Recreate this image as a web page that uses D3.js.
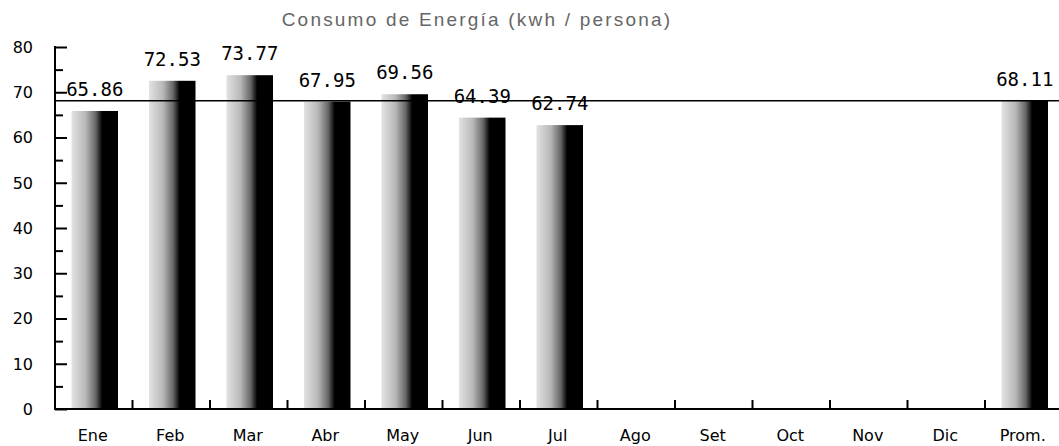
<!DOCTYPE html>
<html>
<head>
<meta charset="utf-8">
<script src="https://cdn.jsdelivr.net/npm/d3@7"></script>
<style>
  body { margin: 0; background: #fff; }
  svg { display: block; }
</style>
</head>
<body>
<div id="chart"></div>
<script>
// data
const months = ["Ene", "Feb", "Mar", "Abr", "May", "Jun", "Jul", "Ago", "Set", "Oct", "Nov", "Dic", "Prom."];
const consumo = [65.86, 72.53, 73.77, 67.95, 69.56, 64.39, 62.74, null, null, null, null, null, 68.11];
const promedio = 68.11;
const yTicks = [0, 10, 20, 30, 40, 50, 60, 70, 80];
const title = "Consumo de Energía (kwh / persona)";

let width = 1059,
    height = 446;

const svg = d3.select("#chart").append("svg")
    .attr("width", width)
    .attr("height", height);

let x = d3.scaleBand()
    .domain(months)
    .range([55, 1062.5])
    .padding(0);

let y = d3.scaleLinear()
    .domain([0, 80])
    .range([409, 47]);

// left light -> right black shading of the bars
const grad = svg.append("defs").append("linearGradient")
    .attr("id", "barShade")
    .attr("x1", "0%").attr("x2", "100%")
    .attr("y1", "0%").attr("y2", "0%");
grad.append("stop").attr("offset", "0%").attr("stop-color", "#e2e2e2");
grad.append("stop").attr("offset", "30%").attr("stop-color", "#b8b8b8");
grad.append("stop").attr("offset", "52%").attr("stop-color", "#666");
grad.append("stop").attr("offset", "66%").attr("stop-color", "#000");
grad.append("stop").attr("offset", "100%").attr("stop-color", "#000");

// title
svg.append("text")
    .attr("x", 477)
    .attr("y", 26)
    .attr("text-anchor", "middle")
    .style("font-family", "Liberation Sans, Arial, sans-serif")
    .style("font-size", "19px")
    .style("letter-spacing", "2.2px")
    .style("fill", "#666")
    .text(title);

const data = months.map(function (m, i) { return { month: m, value: consumo[i] }; });
const bw = x.bandwidth() * 0.6;

// bars
svg.selectAll(".bar")
    .data(data.filter(function (d) { return d.value != null; }))
    .enter().append("rect")
    .attr("class", "bar")
    .attr("x", function (d) { return x(d.month) + (x.bandwidth() - bw) / 2 + 1; })
    .attr("width", bw)
    .attr("y", function (d) { return y(d.value); })
    .attr("height", function (d) { return y(0) - y(d.value); })
    .attr("fill", "url(#barShade)");

// average line
svg.append("line")
    .attr("x1", x.range()[0])
    .attr("x2", width)
    .attr("y1", y(promedio))
    .attr("y2", y(promedio))
    .attr("stroke", "#000")
    .attr("stroke-width", 1.5);

// value labels
svg.selectAll(".val")
    .data(data.filter(function (d) { return d.value != null; }))
    .enter().append("text")
    .attr("class", "val")
    .attr("x", function (d) { return x(d.month) + x.bandwidth() / 2 + 1; })
    .attr("y", function (d) { return y(d.value) - 15; })
    .attr("text-anchor", "middle")
    .style("font-family", "DejaVu Sans Mono, monospace")
    .style("font-size", "19px")
    .style("fill", "#000")
    .text(function (d) { return d.value.toFixed(2); });

// y axis
const yAxis = d3.axisRight(y)
    .tickValues(d3.range(0, 81, 5))
    .tickSize(8)
    .tickFormat("");
const gy = svg.append("g")
    .attr("transform", "translate(" + x.range()[0] + ",0)")
    .call(yAxis);
gy.select(".domain").remove();
gy.selectAll(".tick line")
    .attr("x2", function (d) { return d % 10 === 0 ? 12 : 8; })
    .attr("stroke", "#000")
    .attr("stroke-width", 2);
svg.append("line")
    .attr("x1", x.range()[0]).attr("x2", x.range()[0])
    .attr("y1", y(80) - 1).attr("y2", y(0) + 1)
    .attr("stroke", "#000")
    .attr("stroke-width", 2);

svg.selectAll(".ylab")
    .data(yTicks)
    .enter().append("text")
    .attr("class", "ylab")
    .attr("x", 33)
    .attr("y", function (d) { return y(d); })
    .attr("dy", "0.36em")
    .attr("text-anchor", "end")
    .style("font-family", "DejaVu Sans, sans-serif")
    .style("font-size", "16px")
    .style("fill", "#000")
    .text(function (d) { return d; });

// x axis
svg.append("line")
    .attr("x1", x.range()[0] - 1)
    .attr("x2", width)
    .attr("y1", y(0))
    .attr("y2", y(0))
    .attr("stroke", "#000")
    .attr("stroke-width", 2);

svg.selectAll(".xtick")
    .data(months.slice(1))
    .enter().append("line")
    .attr("class", "xtick")
    .attr("x1", function (d) { return x(d); })
    .attr("x2", function (d) { return x(d); })
    .attr("y1", y(0))
    .attr("y2", y(0) - 9)
    .attr("stroke", "#000")
    .attr("stroke-width", 2);

svg.selectAll(".xlab")
    .data(months)
    .enter().append("text")
    .attr("class", "xlab")
    .attr("x", function (d) { return x(d) + x.bandwidth() / 2 - 1; })
    .attr("y", 441)
    .attr("text-anchor", "middle")
    .style("font-family", "DejaVu Sans, sans-serif")
    .style("font-size", "16px")
    .style("fill", "#000")
    .text(function (d) { return d; });
</script>
</body>
</html>
